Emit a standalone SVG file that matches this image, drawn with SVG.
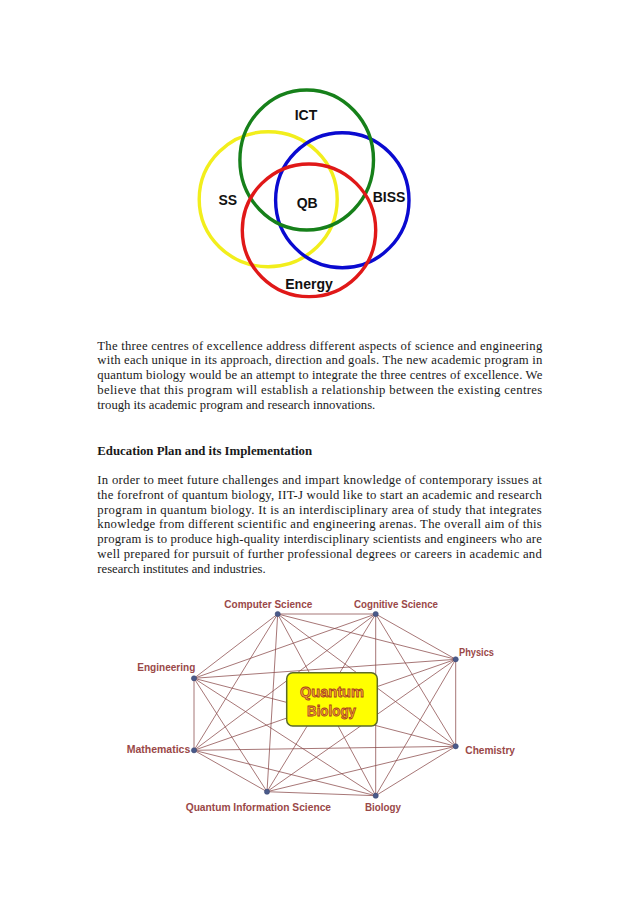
<svg xmlns="http://www.w3.org/2000/svg" width="638" height="903" viewBox="0 0 638 903">
<style>
.vl{font-family:"Liberation Sans",Arial,sans-serif;font-weight:bold;font-size:14px;fill:#111}
.ring{fill:none;stroke-width:3.4}
.body{font-family:"Liberation Serif","Times New Roman",serif;font-size:12.7px;fill:#1a1a1a}
.head{font-family:"Liberation Serif","Times New Roman",serif;font-size:12.8px;font-weight:bold;fill:#1a1a1a}
.edges line{stroke:#8a4a4a;stroke-width:0.75}
.dot{fill:#4a5a8a;stroke:#3a4670;stroke-width:0.5}
.nl{font-family:"Liberation Sans",Arial,sans-serif;font-size:11.5px;font-weight:bold;fill:#9a4848}
.qb{font-family:"Liberation Sans",Arial,sans-serif;font-size:14.5px;font-weight:bold;fill:#f6a83a;stroke:#a8401a;stroke-width:0.8}
</style>
<rect width="638" height="903" fill="#ffffff"/>

<g id="venn">
  <ellipse id="ring-ss" class="ring" cx="268.2" cy="199.2" rx="69" ry="67.5" stroke="#f2ee1c"/>
  <ellipse id="ring-biss" class="ring" cx="342.3" cy="200.2" rx="66.7" ry="67.5" stroke="#0a0ad0"/>
  <ellipse id="ring-ict" class="ring" cx="306.7" cy="160" rx="66.8" ry="70" stroke="#16801a"/>
  <ellipse id="ring-energy" class="ring" cx="309" cy="230.3" rx="66.7" ry="66.3" stroke="#e01818"/>
  <text class="vl" x="306" y="120" text-anchor="middle">ICT</text>
  <text class="vl" x="218.5" y="204.5">SS</text>
  <text class="vl" x="296.7" y="207.5">QB</text>
  <text class="vl" x="372.7" y="201.5">BISS</text>
  <text class="vl" x="309" y="289" text-anchor="middle">Energy</text>
</g>

<g id="paragraph1">
  <text class="body" x="97.3" y="349.5" textLength="445" lengthAdjust="spacing">The three centres of excellence address different aspects of science and engineering</text>
  <text class="body" x="97.3" y="364.3" textLength="445" lengthAdjust="spacing">with each unique in its approach, direction and goals. The new academic program in</text>
  <text class="body" x="97.3" y="379.1" textLength="445" lengthAdjust="spacing">quantum biology would be an attempt to integrate the three centres of excellence. We</text>
  <text class="body" x="97.3" y="393.9" textLength="445" lengthAdjust="spacing">believe that this program will establish a relationship between the existing centres</text>
  <text class="body" x="97.3" y="408.7">trough its academic program and research innovations.</text>
</g>

<g id="heading">
  <text class="head" x="97.3" y="455">Education Plan and its Implementation</text>
</g>

<g id="paragraph2">
  <text class="body" x="97.3" y="484.3" textLength="444.5" lengthAdjust="spacing">In order to meet future challenges and impart knowledge of contemporary issues at</text>
  <text class="body" x="97.3" y="499" textLength="444.5" lengthAdjust="spacing">the forefront of quantum biology, IIT-J would like to start an academic and research</text>
  <text class="body" x="97.3" y="513.7" textLength="444.5" lengthAdjust="spacing">program in quantum biology. It is an interdisciplinary area of study that integrates</text>
  <text class="body" x="97.3" y="528.4" textLength="444.5" lengthAdjust="spacing">knowledge from different scientific and engineering arenas. The overall aim of this</text>
  <text class="body" x="97.3" y="543.1" textLength="444.5" lengthAdjust="spacing">program is to produce high-quality interdisciplinary scientists and engineers who are</text>
  <text class="body" x="97.3" y="557.8" textLength="444.5" lengthAdjust="spacing">well prepared for pursuit of further professional degrees or careers in academic and</text>
  <text class="body" x="97.3" y="572.5">research institutes and industries.</text>
</g>

<g id="connectors" class="edges">
  <line x1="277.7" y1="614" x2="375.7" y2="614"/>
  <line x1="277.7" y1="614" x2="455.7" y2="659.3"/>
  <line x1="277.7" y1="614" x2="455.7" y2="746.3"/>
  <line x1="277.7" y1="614" x2="375.7" y2="795.7"/>
  <line x1="277.7" y1="614" x2="267" y2="791.7"/>
  <line x1="277.7" y1="614" x2="194" y2="750.3"/>
  <line x1="277.7" y1="614" x2="194" y2="678.3"/>
  <line x1="375.7" y1="614" x2="455.7" y2="659.3"/>
  <line x1="375.7" y1="614" x2="455.7" y2="746.3"/>
  <line x1="375.7" y1="614" x2="375.7" y2="795.7"/>
  <line x1="375.7" y1="614" x2="267" y2="791.7"/>
  <line x1="375.7" y1="614" x2="194" y2="750.3"/>
  <line x1="375.7" y1="614" x2="194" y2="678.3"/>
  <line x1="455.7" y1="659.3" x2="455.7" y2="746.3"/>
  <line x1="455.7" y1="659.3" x2="375.7" y2="795.7"/>
  <line x1="455.7" y1="659.3" x2="267" y2="791.7"/>
  <line x1="455.7" y1="659.3" x2="194" y2="750.3"/>
  <line x1="455.7" y1="659.3" x2="194" y2="678.3"/>
  <line x1="455.7" y1="746.3" x2="375.7" y2="795.7"/>
  <line x1="455.7" y1="746.3" x2="267" y2="791.7"/>
  <line x1="455.7" y1="746.3" x2="194" y2="750.3"/>
  <line x1="455.7" y1="746.3" x2="194" y2="678.3"/>
  <line x1="375.7" y1="795.7" x2="267" y2="791.7"/>
  <line x1="375.7" y1="795.7" x2="194" y2="750.3"/>
  <line x1="375.7" y1="795.7" x2="194" y2="678.3"/>
  <line x1="267" y1="791.7" x2="194" y2="750.3"/>
  <line x1="267" y1="791.7" x2="194" y2="678.3"/>
  <line x1="194" y1="750.3" x2="194" y2="678.3"/>
</g>

<g id="quantum-biology">
  <rect x="286.7" y="672.7" width="90.6" height="53.3" rx="6" fill="#ffff00" stroke="#5a6a2a" stroke-width="1.5"/>
  <text class="qb" x="300" y="696.5" textLength="64" lengthAdjust="spacingAndGlyphs">Quantum</text>
  <text class="qb" x="307" y="715.5" textLength="49" lengthAdjust="spacingAndGlyphs">Biology</text>
</g>

<g id="computer-science">
  <circle class="dot" cx="277.7" cy="614" r="2.6"/>
  <text class="nl" x="224.3" y="608" textLength="88" lengthAdjust="spacingAndGlyphs">Computer Science</text>
</g>
<g id="cognitive-science">
  <circle class="dot" cx="375.7" cy="614" r="2.6"/>
  <text class="nl" x="354" y="608" textLength="84" lengthAdjust="spacingAndGlyphs">Cognitive Science</text>
</g>
<g id="physics">
  <circle class="dot" cx="455.7" cy="659.3" r="2.6"/>
  <text class="nl" x="459" y="656" textLength="35" lengthAdjust="spacingAndGlyphs">Physics</text>
</g>
<g id="engineering">
  <circle class="dot" cx="194" cy="678.3" r="2.6"/>
  <text class="nl" x="137.3" y="671" textLength="58" lengthAdjust="spacingAndGlyphs">Engineering</text>
</g>
<g id="mathematics">
  <circle class="dot" cx="194" cy="750.3" r="2.6"/>
  <text class="nl" x="126.7" y="752.5" textLength="63.6" lengthAdjust="spacingAndGlyphs">Mathematics</text>
</g>
<g id="chemistry">
  <circle class="dot" cx="455.7" cy="746.3" r="2.6"/>
  <text class="nl" x="465.3" y="754" textLength="49.7" lengthAdjust="spacingAndGlyphs">Chemistry</text>
</g>
<g id="quantum-information-science">
  <circle class="dot" cx="267" cy="791.7" r="2.6"/>
  <text class="nl" x="185.7" y="810.5" textLength="145.3" lengthAdjust="spacingAndGlyphs">Quantum Information Science</text>
</g>
<g id="biology">
  <circle class="dot" cx="375.7" cy="795.7" r="2.6"/>
  <text class="nl" x="365" y="810.5" textLength="36" lengthAdjust="spacingAndGlyphs">Biology</text>
</g>
</svg>
